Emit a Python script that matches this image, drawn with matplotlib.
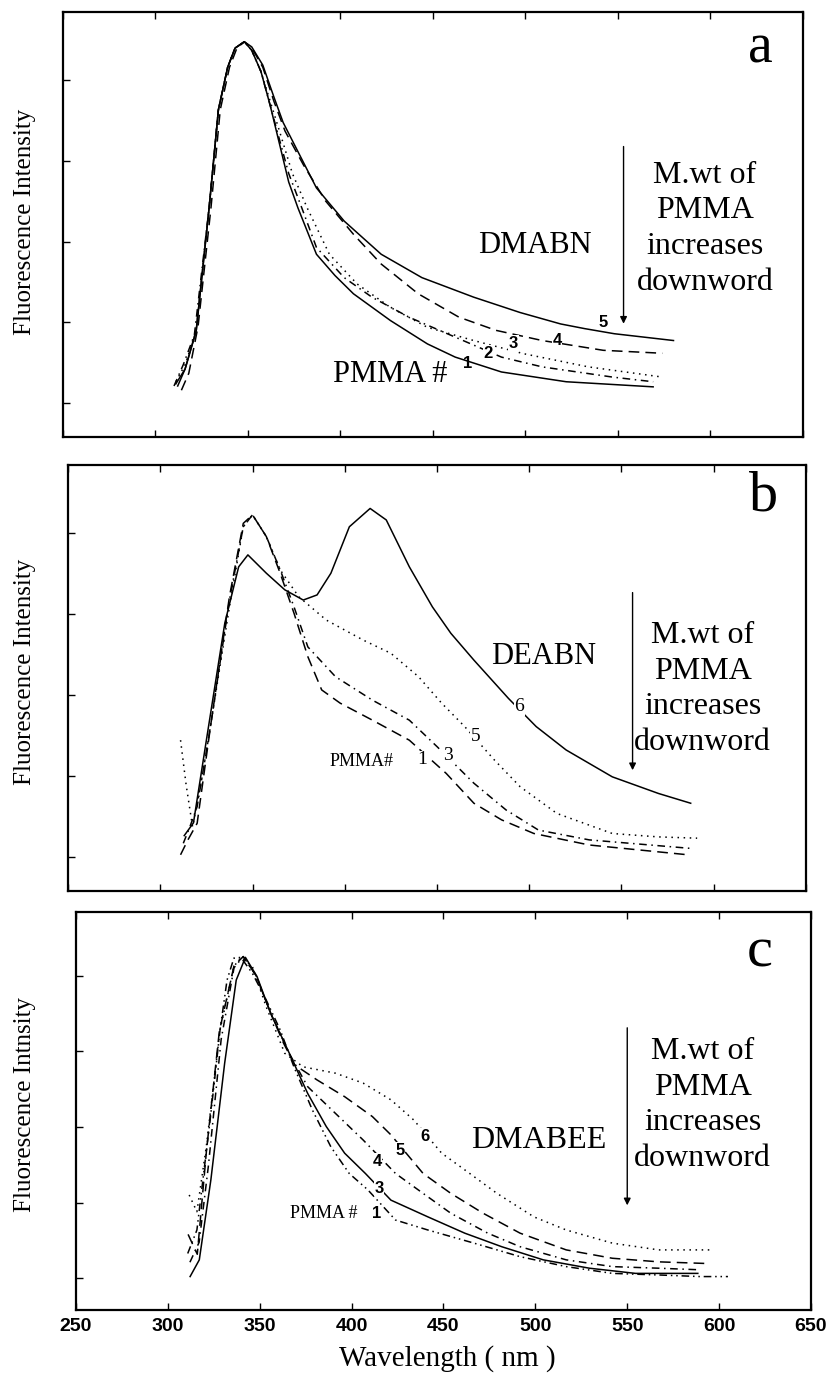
import matplotlib
matplotlib.use("Agg")
import matplotlib.pyplot as plt

SERIF = "Liberation Serif"
SANS = "Liberation Sans"

# ---------------- data (wavelength nm, relative intensity) ----------------
# Panel a: DMABN
a5_wl = [312, 316, 322, 329, 334, 339, 343, 348, 352, 358, 364, 369, 376, 387, 402, 422, 444, 472, 497, 519, 532, 548, 580]
a5_I = [0.12, 0.16, 0.25, 0.54, 0.77, 0.87, 0.915, 0.93, 0.918, 0.875, 0.80, 0.74, 0.68, 0.586, 0.508, 0.430, 0.375, 0.329, 0.293, 0.266, 0.255, 0.243, 0.227]
a4_wl = [314, 318, 323, 330, 335, 340, 344, 348, 352, 358, 364, 370, 380, 392, 407, 422, 442, 464, 484, 509, 542, 574]
a4_I = [0.11, 0.15, 0.26, 0.54, 0.77, 0.87, 0.915, 0.93, 0.916, 0.87, 0.79, 0.72, 0.64, 0.555, 0.477, 0.407, 0.337, 0.282, 0.251, 0.227, 0.204, 0.197]
a3_wl = [311, 316, 322, 329, 334, 339, 343, 348, 352, 357, 362, 367, 374, 382, 394, 409, 427, 447, 472, 499, 534, 574]
a3_I = [0.13, 0.17, 0.25, 0.54, 0.77, 0.87, 0.915, 0.93, 0.91, 0.86, 0.79, 0.72, 0.62, 0.539, 0.430, 0.360, 0.305, 0.258, 0.227, 0.196, 0.165, 0.141]
a2_wl = [310, 315, 321, 329, 334, 339, 343, 348, 352, 357, 362, 367, 372, 379, 387, 402, 417, 437, 462, 487, 509, 547, 569]
a2_I = [0.12, 0.17, 0.24, 0.54, 0.77, 0.87, 0.915, 0.93, 0.91, 0.86, 0.78, 0.70, 0.62, 0.54, 0.446, 0.375, 0.329, 0.282, 0.235, 0.188, 0.165, 0.141, 0.130]
a1_wl = [311, 316, 322, 329, 334, 339, 343, 348, 352, 357, 362, 367, 372, 377, 387, 397, 407, 427, 447, 462, 487, 522, 569]
a1_I = [0.125, 0.16, 0.25, 0.54, 0.77, 0.87, 0.915, 0.93, 0.91, 0.86, 0.78, 0.69, 0.60, 0.539, 0.430, 0.38, 0.337, 0.274, 0.219, 0.188, 0.153, 0.130, 0.118]

# Panel b: DEABN
b6_wl = [313, 318, 325, 335, 342.5, 347.5, 357.5, 367.5, 377.5, 385, 392.5, 402.5, 413.75, 422.5, 435, 447.5, 457.5, 470, 488.75, 503.75, 520, 545, 570, 587.5]
b6_I = [0.13, 0.16, 0.354, 0.629, 0.761, 0.789, 0.746, 0.707, 0.683, 0.695, 0.746, 0.855, 0.898, 0.871, 0.761, 0.667, 0.605, 0.542, 0.452, 0.386, 0.331, 0.268, 0.229, 0.206]
b5_wl = [311, 314, 317.5, 322, 327.5, 337.5, 345, 350, 357.5, 365, 375, 390, 410, 425, 440, 452.5, 465, 481, 495, 515, 545, 570, 591]
b5_I = [0.354, 0.25, 0.151, 0.25, 0.394, 0.667, 0.855, 0.883, 0.832, 0.754, 0.691, 0.636, 0.589, 0.558, 0.503, 0.441, 0.386, 0.308, 0.245, 0.182, 0.135, 0.127, 0.124]
b3_wl = [312.5, 316, 320, 327.5, 337.5, 345, 350, 357.5, 365, 372.5, 380, 395, 415, 435, 450, 470, 487.5, 505, 532.5, 587.5]
b3_I = [0.112, 0.15, 0.198, 0.394, 0.683, 0.855, 0.883, 0.832, 0.754, 0.667, 0.573, 0.503, 0.448, 0.401, 0.339, 0.253, 0.190, 0.143, 0.120, 0.100]
b1_wl = [311, 315, 320, 327.5, 337.5, 345, 350, 357.5, 365, 372.5, 380, 387.5, 397.5, 415, 435, 455, 470, 485, 502.5, 532.5, 586]
b1_I = [0.085, 0.12, 0.159, 0.394, 0.691, 0.863, 0.883, 0.832, 0.746, 0.652, 0.550, 0.472, 0.441, 0.401, 0.354, 0.276, 0.206, 0.167, 0.135, 0.108, 0.085]

# Panel c: DMABEE
c6_wl = [311.6, 315.8, 320.9, 328.4, 335.9, 339.7, 346, 353.5, 363.6, 373.6, 391.2, 406.3, 421.4, 433.9, 449, 461.6, 479.1, 499.2, 516.8, 541.9, 567.1, 594.7]
c6_I = [0.289, 0.247, 0.410, 0.704, 0.863, 0.886, 0.863, 0.762, 0.645, 0.611, 0.595, 0.570, 0.528, 0.477, 0.394, 0.352, 0.293, 0.234, 0.201, 0.168, 0.151, 0.151]
c5_wl = [311, 316, 321, 328, 336, 341, 348, 356, 363, 369, 381.2, 396.2, 411.3, 421.4, 438.9, 454, 471.6, 491.7, 516.8, 541.9, 567.1, 592.2]
c5_I = [0.19, 0.14, 0.40, 0.70, 0.865, 0.888, 0.84, 0.745, 0.67, 0.616, 0.578, 0.536, 0.486, 0.440, 0.343, 0.293, 0.243, 0.193, 0.151, 0.130, 0.121, 0.117]
c4_wl = [312, 317, 322, 329, 336, 341, 348, 356, 366, 376.1, 391.2, 406.3, 423.9, 438.9, 454, 474.1, 491.7, 516.8, 541.9, 567.1, 589.7]
c4_I = [0.12, 0.17, 0.36, 0.68, 0.86, 0.888, 0.84, 0.745, 0.645, 0.561, 0.494, 0.427, 0.343, 0.293, 0.243, 0.193, 0.159, 0.126, 0.109, 0.105, 0.101]
c3_wl = [312.1, 317.1, 323.4, 330.9, 337.2, 342.2, 348.5, 356, 366.1, 376.1, 386.2, 396.2, 407.5, 421.4, 441.5, 461.6, 481.7, 504.3, 529.4, 554.5, 588.4]
c3_I = [0.084, 0.126, 0.327, 0.620, 0.829, 0.886, 0.838, 0.745, 0.645, 0.544, 0.461, 0.394, 0.343, 0.276, 0.234, 0.193, 0.159, 0.126, 0.105, 0.092, 0.092]
c1_wl = [310.8, 315.8, 323.4, 328.4, 332.2, 335.9, 339.7, 346, 353.5, 361.1, 368.6, 378.6, 388.7, 398.7, 408.8, 423.9, 441.5, 466.6, 491.7, 516.8, 541.9, 567.1, 589.7, 604.8]
c1_I = [0.142, 0.201, 0.494, 0.704, 0.829, 0.884, 0.886, 0.846, 0.779, 0.704, 0.611, 0.503, 0.410, 0.343, 0.302, 0.226, 0.201, 0.168, 0.134, 0.109, 0.092, 0.088, 0.084, 0.084]

x_ticks = [250, 300, 350, 400, 450, 500, 550, 600, 650]

# ---------------- figure ----------------
W, H = 829, 1378
fig = plt.figure(figsize=(W / 100, H / 100), dpi=100)


def make_ax(left, right, top, bottom):
    ax = fig.add_axes([left / W, 1 - bottom / H, (right - left) / W, (bottom - top) / H])
    ax.set_xlim(250, 650)
    ax.set_ylim(0, 1)
    ax.set_xticks(x_ticks)
    ax.set_yticks([0.08, 0.27, 0.46, 0.65, 0.84])
    ax.tick_params(direction="in", top=True, right=False, length=5, width=1.0,
                   labelleft=False, labelbottom=False)
    for s in ax.spines.values():
        s.set_linewidth(1.6)
    return ax


lw = 1.1
DASH = (0, (7, 4))
DOT = (0, (1, 3))
DASHDOT = (0, (5, 3, 1, 3))
DASHDOTDOT = (0, (5, 2.5, 1, 2.5, 1, 2.5))

num_kw = dict(family=SANS, weight="bold", fontsize=12, ha="center", va="center", zorder=5,
              bbox=dict(facecolor="white", edgecolor="none", pad=0.5))
num_serif = dict(family=SERIF, fontsize=14, ha="center", va="center", zorder=5,
                 bbox=dict(facecolor="white", edgecolor="none", pad=0.5))
side_kw = dict(family=SERIF, fontsize=23, ha="center", va="center", linespacing=1.3)
SIDE = "M.wt of\nPMMA\nincreases\ndownword"
arrow_kw = dict(arrowstyle="-|>", color="black", lw=1.0, mutation_scale=10)

# ---- panel a ----
ax = make_ax(63, 803, 12, 437)
ax.plot(a5_wl, a5_I, color="black", lw=lw, ls="-")
ax.plot(a4_wl, a4_I, color="black", lw=lw, ls=DASH)
ax.plot(a3_wl, a3_I, color="black", lw=lw, ls=DOT)
ax.plot(a2_wl, a2_I, color="black", lw=lw, ls=DASHDOT)
ax.plot(a1_wl, a1_I, color="black", lw=lw, ls="-")
ax.text(542, 0.27, "5", **num_kw)
ax.text(517, 0.227, "4", **num_kw)
ax.text(493.5, 0.22, "3", **num_kw)
ax.text(480, 0.197, "2", **num_kw)
ax.text(468.5, 0.173, "1", family=SANS, weight="bold", fontsize=12, ha="center", va="center", zorder=5)
ax.text(427, 0.148, "PMMA #", family=SERIF, fontsize=22, ha="center", va="center")
ax.text(505, 0.45, "DMABN", family=SERIF, fontsize=22, ha="center", va="center")
ax.text(627, 0.915, "a", family=SERIF, fontsize=40, ha="center", va="center")
ax.annotate("", xy=(553, 0.26), xytext=(553, 0.69), arrowprops=arrow_kw)
ax.text(597, 0.49, SIDE, **side_kw)

# ---- panel b ----
ax = make_ax(68, 806, 465, 891)
ax.plot(b6_wl, b6_I, color="black", lw=lw, ls="-")
ax.plot(b5_wl, b5_I, color="black", lw=lw, ls=DOT)
ax.plot(b3_wl, b3_I, color="black", lw=lw, ls=DASHDOT)
ax.plot(b1_wl, b1_I, color="black", lw=lw, ls=DASH)
ax.text(494.6, 0.433, "6", **num_serif)
ax.text(471, 0.362, "5", **num_serif)
ax.text(456, 0.319, "3", **num_serif)
ax.text(442, 0.308, "1", **num_serif)
ax.text(409, 0.303, "PMMA#", family=SERIF, fontsize=13, ha="center", va="center")
ax.text(508, 0.55, "DEABN", family=SERIF, fontsize=22, ha="center", va="center")
ax.text(627, 0.925, "b", family=SERIF, fontsize=42, ha="center", va="center")
ax.annotate("", xy=(556, 0.277), xytext=(556, 0.707), arrowprops=arrow_kw)
ax.text(594, 0.474, SIDE, **side_kw)

# ---- panel c ----
ax = make_ax(76, 811, 912, 1310)
ax.plot(c6_wl, c6_I, color="black", lw=lw, ls=DOT)
ax.plot(c5_wl, c5_I, color="black", lw=lw, ls=DASH)
ax.plot(c4_wl, c4_I, color="black", lw=lw, ls=DASHDOT)
ax.plot(c3_wl, c3_I, color="black", lw=lw, ls="-")
ax.plot(c1_wl, c1_I, color="black", lw=lw, ls=DASHDOTDOT)
ax.text(440.2, 0.436, "6", **num_kw)
ax.text(426.4, 0.402, "5", **num_kw)
ax.text(413.8, 0.373, "4", **num_kw)
ax.text(415, 0.306, "3", **num_kw)
ax.text(413.8, 0.243, "1", **num_kw)
ax.text(385, 0.243, "PMMA #", family=SERIF, fontsize=13, ha="center", va="center")
ax.text(502, 0.427, "DMABEE", family=SERIF, fontsize=23, ha="center", va="center")
ax.text(622, 0.897, "c", family=SERIF, fontsize=42, ha="center", va="center")
ax.annotate("", xy=(550, 0.256), xytext=(550, 0.716), arrowprops=arrow_kw)
ax.text(591, 0.515, SIDE, **side_kw)
ax.tick_params(labelbottom=True, pad=6)
for lab in ax.get_xticklabels():
    lab.set_family(SANS)
    lab.set_weight("bold")
    lab.set_fontsize(14)

fig.text(447 / W, 1 - 1359 / H, "Wavelength ( nm )", family=SERIF, fontsize=21,
         ha="center", va="center")

# y labels
for yc, txt in [(222, "Fluorescence Intensity"), (672, "Fluorescence Intensity"),
                (1105, "Fluorescence Intnsity")]:
    fig.text(25 / W, 1 - yc / H, txt, family=SERIF, fontsize=18, rotation=90,
             ha="center", va="center")

fig.savefig("out.png", dpi=100, facecolor="white")
